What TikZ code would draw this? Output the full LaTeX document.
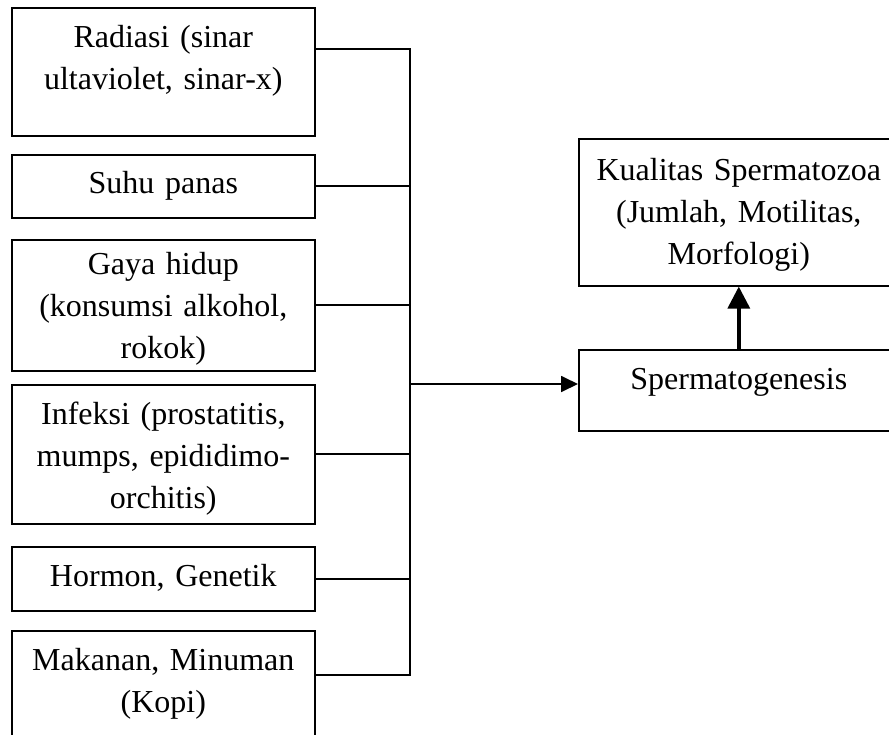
\documentclass[tikz,border=0pt]{standalone}
\usepackage{fontspec}
\setmainfont{Liberation Serif}
\usetikzlibrary{arrows.meta}
\begin{document}
\begin{tikzpicture}[x=1pt,y=-1pt,
  kotak/.style={draw,line width=1.6pt,inner sep=0pt,align=center,anchor=north west,
    text height=40pt,font=\fontsize{32pt}{42pt}\selectfont},
  kiri/.style={kotak,text width=303pt},
  kanan/.style={kotak,text width=320pt},
  garis/.style={line width=1.8pt}]
\useasboundingbox (0,0) rectangle (889,734);
% faktor-faktor di kiri
\node[kiri,text depth=88pt](radiasi) at (11,7){Radiasi (sinar\\ultaviolet, sinar-x)};
\node[kiri,text height=39pt,text depth=24pt](suhu) at (11,154){Suhu panas};
\node[kiri,text height=35pt,text depth=96pt](gaya) at (11,239){Gaya hidup\\(konsumsi alkohol,\\rokok)};
\node[kiri,text depth=99pt](infeksi) at (11,384){Infeksi (prostatitis,\\mumps, epididimo-\\orchitis)};
\node[kiri,text depth=24pt](hormon) at (11,546){Hormon, Genetik};
\node[kiri,text depth=90pt](makanan) at (11,630){Makanan, Minuman\\(Kopi)};
% kanan
\node[kanan,text height=42pt,text depth=105pt](kualitas) at (578,138){Kualitas Spermatozoa\\(Jumlah, Motilitas,\\Morfologi)};
\node[kanan,text depth=41pt](sperma) at (578,349){Spermatogenesis};
\coordinate (cabang) at (410,384);
\draw[garis]([yshift=23pt]radiasi.east)-|(cabang)|-([yshift=21pt]makanan.east);
\foreach \n in {suhu,gaya,infeksi,hormon}
  \draw[garis](\n.east)--(\n.east-|cabang);
\draw[garis,-{Triangle[length=17pt,width=16pt]}](cabang)--(cabang-|sperma.west);
\draw[line width=3.5pt,-{Triangle[length=22pt,width=22pt]}](sperma.north)--(kualitas.south);
\end{tikzpicture}
\end{document}
